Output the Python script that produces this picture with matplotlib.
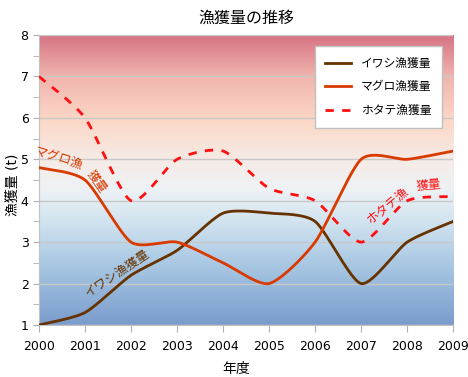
import numpy as np
import matplotlib
matplotlib.use("Agg")
import matplotlib.pyplot as plt
from matplotlib.colors import LinearSegmentedColormap

plt.rcParams['font.family'] = ['DejaVu Sans', 'Noto Sans CJK JP']

years = [2000, 2001, 2002, 2003, 2004, 2005, 2006, 2007, 2008, 2009]
iwashi = [1.0, 1.3, 2.2, 2.8, 3.7, 3.7, 3.5, 2.0, 3.0, 3.5]
maguro = [4.8, 4.5, 3.0, 3.0, 2.5, 2.0, 3.0, 5.0, 5.0, 5.2]
hotate = [7.0, 6.0, 4.0, 5.0, 5.2, 4.3, 4.0, 3.0, 4.0, 4.1]
names = ['イワシ漁獲量', 'マグロ漁獲量', 'ホタテ漁獲量']


def smooth(x, y, n=30, t=0.35):
    # catmull-rom style smoothing like excel's smoothed line
    x = np.asarray(x, float)
    y = np.asarray(y, float)
    px = np.concatenate([[x[0]], x, [x[-1]]])
    py = np.concatenate([[y[0]], y, [y[-1]]])
    xs, ys = [], []
    for i in range(1, len(px) - 2):
        p0 = np.array([px[i - 1], py[i - 1]])
        p1 = np.array([px[i], py[i]])
        p2 = np.array([px[i + 1], py[i + 1]])
        p3 = np.array([px[i + 2], py[i + 2]])
        c1 = p1 + (p2 - p0) * t / 3
        c2 = p2 - (p3 - p1) * t / 3
        s = np.linspace(0, 1, n)[:, None]
        b = (1 - s) ** 3 * p1 + 3 * (1 - s) ** 2 * s * c1 + 3 * (1 - s) * s ** 2 * c2 + s ** 3 * p2
        xs.extend(b[:, 0])
        ys.extend(b[:, 1])
    return xs, ys


fig = plt.figure(figsize=(4.68, 3.77), dpi=100)
ax = fig.add_axes([0.0833, 0.138, 0.885, 0.769])

# background gradient
cmap = LinearSegmentedColormap.from_list('bg', [
    (0.0, '#7a9ccc'), (0.2, '#a6c6e2'), (0.36, '#d2e4f0'),
    (0.47, '#eef2f5'), (0.57, '#f6ebe6'), (0.71, '#fcd7c6'),
    (0.86, '#f0b4ad'), (1.0, '#d77384')])
grad = np.linspace(0, 1, 256)[:, None]
ax.imshow(grad, extent=[2000, 2009, 1, 8], origin='lower', aspect='auto',
          cmap=cmap, zorder=0)

for v in range(1, 9):
    ax.axhline(v, color='#c8c8c8', lw=1, zorder=1)

x, y = smooth(years, iwashi)
ax.plot(x, y, color='#663300', lw=2, label=names[0], zorder=3)
x, y = smooth(years, maguro)
ax.plot(x, y, color='#d93a00', lw=2, label=names[1], zorder=3)
x, y = smooth(years, hotate)
ax.plot(x, y, color='#ff1010', lw=2, ls=(0, (3, 3)), label=names[2], zorder=3)

ax.set_xlim(2000, 2009)
ax.set_ylim(1, 8)
ax.set_xticks(years)
ax.set_xticklabels([str(v) for v in years], fontsize=9)
ax.set_yticks(range(1, 9))
ax.set_yticks(np.arange(1.5, 8, 1), minor=True)
ax.tick_params(axis='y', which='both', length=4, color='#b0b0b0', labelsize=9)
ax.tick_params(axis='x', length=5, color='#b0b0b0', pad=6)
for s in ['top', 'right']:
    ax.spines[s].set_visible(False)
for s in ['left', 'bottom']:
    ax.spines[s].set_color('#c0c0c0')

ax.set_title('漁獲量の推移', fontsize=11.5, pad=9)
fig.text(236 / 468, 1 - 369 / 377, '年度', fontsize=10, ha='center', va='center')
fig.text(12 / 468, 1 - 185 / 377, '漁獲量 (t)', fontsize=10, rotation=90,
         ha='center', va='center')

leg = ax.legend(loc='upper right', bbox_to_anchor=(0.973, 0.962), fontsize=8.5,
                frameon=True, fancybox=False, edgecolor='#c0c0c0',
                handlelength=2.2, labelspacing=0.9, borderpad=0.9,
                borderaxespad=0)
leg.get_frame().set_alpha(1)

# labels along the lines
ax.text(2000.43, 5.03, 'マグロ漁', color='#d93a00', fontsize=9, rotation=-18,
        ha='center', va='center', zorder=4)
ax.text(2001.26, 4.45, '獲量', color='#d93a00', fontsize=9, rotation=-55,
        ha='center', va='center', zorder=4)
ax.text(2001.7, 2.26, 'イワシ漁獲量', color='#663300', fontsize=9, rotation=34,
        ha='center', va='center', zorder=4)
ax.text(2007.59, 3.9, 'ホタテ漁', color='#ff1010', fontsize=9, rotation=40,
        ha='center', va='center', zorder=4)
ax.text(2008.46, 4.38, '獲量', color='#ff1010', fontsize=9, rotation=5,
        ha='center', va='center', zorder=4)

fig.savefig('out.png', dpi=100)
